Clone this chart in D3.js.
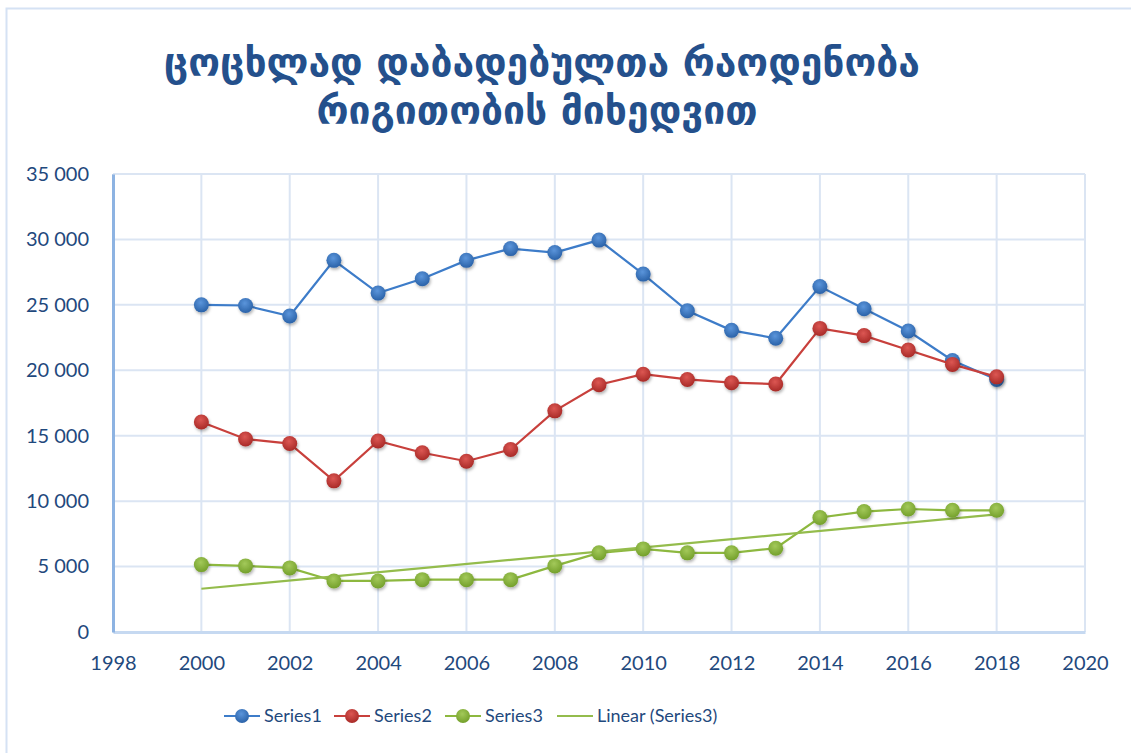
<!DOCTYPE html>
<html>
<head>
<meta charset="utf-8">
<script src="https://cdn.jsdelivr.net/npm/d3@7"></script>
<style>
  html, body { margin: 0; padding: 0; background: #fff; }
  svg { display: block; }
  .tick-label { font-family: Lato, "Open Sans", sans-serif; fill: #1f497d; }
</style>
</head>
<body>
<svg id="chart" width="1131" height="753"></svg>
<script>
// chart data
const titleLines = ['ცოცხლად დაბადებულთა რაოდენობა', 'რიგითობის მიხედვით'];
const years = [2000, 2001, 2002, 2003, 2004, 2005, 2006, 2007, 2008, 2009,
               2010, 2011, 2012, 2013, 2014, 2015, 2016, 2017, 2018];
const series1 = [25000, 24950, 24150, 28400, 25900, 27000, 28400, 29300, 29000, 29950,
                 27350, 24550, 23050, 22450, 26400, 24700, 23000, 20750, 19300];
const series2 = [16050, 14750, 14400, 11550, 14600, 13700, 13050, 13950, 16900, 18900,
                 19700, 19300, 19050, 18950, 23200, 22650, 21550, 20450, 19500];
const series3 = [5150, 5050, 4900, 3900, 3900, 4000, 4000, 4000, 5050, 6050,
                 6350, 6050, 6050, 6400, 8750, 9200, 9400, 9300, 9300];
const xTicks = [1998, 2000, 2002, 2004, 2006, 2008, 2010, 2012, 2014, 2016, 2018, 2020];
const yTicks = [0, 5000, 10000, 15000, 20000, 25000, 30000, 35000];
const legendNames = ['Series1', 'Series2', 'Series3', 'Linear (Series3)'];

const plotLeft = 113, plotTop = 174, plotRight = 1085, plotBottom = 632;
const textColor = '#1f497d';
const gridColor = '#dbe5f3';

const svg = d3.select('#chart');

const x = d3.scaleLinear().domain([1998, 2020]).range([plotLeft, plotRight]);
const y = d3.scaleLinear().domain([0, 35000]).range([plotBottom, plotTop]);

//defs: marker gradients and a soft shadow
const defs = svg.append('defs');
const shadow = defs.append('filter').attr('id', 'shadow')
    .attr('x', '-50%').attr('y', '-50%').attr('width', '200%').attr('height', '200%');
shadow.append('feDropShadow').attr('dx', 1).attr('dy', 2).attr('stdDeviation', 1.4)
    .attr('flood-color', '#000').attr('flood-opacity', 0.3);

const styles = [
    { name: 'blue', line: '#3d7cc9', light: '#5b95db', dark: '#2a62a8' },
    { name: 'red', line: '#c8403c', light: '#dc5753', dark: '#a82a27' },
    { name: 'green', line: '#8db83f', light: '#a3c95a', dark: '#74a02b' }
];
styles.forEach(s => {
    const g = defs.append('radialGradient').attr('id', 'grad-' + s.name)
        .attr('cx', '45%').attr('cy', '35%').attr('r', '65%');
    g.append('stop').attr('offset', '0%').attr('stop-color', s.light);
    g.append('stop').attr('offset', '100%').attr('stop-color', s.dark);
});

//outer frame (only left and top edges visible)
svg.append('path')
    .attr('d', `M6.5,753 V8.5 H1131`)
    .attr('fill', 'none').attr('stroke', '#d5e2f4').attr('stroke-width', 2);

//title
const titleG = svg.append('g').attr('fill', '#24508c')
    .attr('font-family', '"DejaVu Sans", sans-serif').attr('font-weight', 'bold');
const t1 = titleG.append('text').attr('text-anchor', 'middle')
    .attr('x', 542).attr('y', 76).attr('font-size', 34).text(titleLines[0]);
//fit the first line to the width it takes in the picture
const w1 = t1.node().getComputedTextLength();
const fs = 34 * 756 / w1;
t1.attr('font-size', fs);
titleG.append('text').attr('text-anchor', 'middle')
    .attr('x', 537).attr('y', 124).attr('font-size', fs).text(titleLines[1]);

//grid
svg.append('g').selectAll('line').data(yTicks).join('line')
    .attr('x1', plotLeft).attr('x2', plotRight)
    .attr('y1', d => y(d)).attr('y2', d => y(d))
    .attr('stroke', gridColor).attr('stroke-width', 2);
svg.append('g').selectAll('line').data(xTicks).join('line')
    .attr('x1', d => x(d)).attr('x2', d => x(d))
    .attr('y1', plotTop).attr('y2', plotBottom)
    .attr('stroke', gridColor).attr('stroke-width', 2);

//axes
const fmt = v => d3.format(',')(v).replace(/,/g, ' ');
const yAxis = svg.append('g').attr('transform', `translate(${plotLeft},0)`)
    .call(d3.axisLeft(y).tickValues(yTicks).tickFormat(fmt).tickSize(0).tickPadding(24));
yAxis.select('.domain').attr('stroke', '#8db3e2').attr('stroke-width', 3);
yAxis.selectAll('text').attr('class', 'tick-label').attr('font-size', 20)
    .attr('fill', textColor);

const xAxis = svg.append('g').attr('transform', `translate(0,${plotBottom})`)
    .call(d3.axisBottom(x).tickValues(xTicks).tickFormat(d3.format('d')).tickSize(0).tickPadding(24));
xAxis.select('.domain').attr('stroke', '#c6d9f1').attr('stroke-width', 3);
xAxis.selectAll('text').attr('class', 'tick-label').attr('font-size', 20)
    .attr('fill', textColor);
yAxis.raise();

//linear trend of series3 (least squares, as the spreadsheet draws it)
const mx = d3.mean(years), my = d3.mean(series3);
const slope = d3.sum(years, (yr, i) => (yr - mx) * (series3[i] - my)) /
              d3.sum(years, yr => (yr - mx) * (yr - mx));
const trend = yr => my + slope * (yr - mx);
const trendPts = [years[0], years[years.length - 1]].map(yr => [yr, trend(yr)]);

const line = d3.line().x(d => x(d[0])).y(d => y(d[1]));

const allSeries = [series1, series2, series3];
allSeries.forEach((vals, k) => {
    const pts = years.map((yr, i) => [yr, vals[i]]);
    const g = svg.append('g');
    g.append('path').datum(pts).attr('d', line)
        .attr('fill', 'none').attr('stroke', styles[k].line).attr('stroke-width', 2.2);
    if (k === 2) {
        g.append('path').datum(trendPts).attr('d', line)
            .attr('fill', 'none').attr('stroke', '#94bc4c').attr('stroke-width', 2.2);
    }
    g.selectAll('circle').data(pts).join('circle')
        .attr('cx', d => x(d[0])).attr('cy', d => y(d[1])).attr('r', 7.5)
        .attr('fill', `url(#grad-${styles[k].name})`)
        .attr('filter', 'url(#shadow)');
});

//legend
const legendX = [224, 334, 445, 557];
const legendY = 716;
const legend = svg.append('g');
legendNames.forEach((name, i) => {
    const lx = legendX[i];
    const col = i < 3 ? styles[i].line : '#94bc4c';
    legend.append('line').attr('x1', lx).attr('x2', lx + 36)
        .attr('y1', legendY).attr('y2', legendY)
        .attr('stroke', col).attr('stroke-width', 2);
    if (i < 3) {
        legend.append('circle').attr('cx', lx + 18).attr('cy', legendY).attr('r', 7)
            .attr('fill', `url(#grad-${styles[i].name})`);
    }
    legend.append('text').attr('class', 'tick-label')
        .attr('x', lx + 40).attr('y', legendY).attr('dy', '0.35em')
        .attr('font-size', 18).attr('fill', textColor).text(name);
});
</script>
</body>
</html>
